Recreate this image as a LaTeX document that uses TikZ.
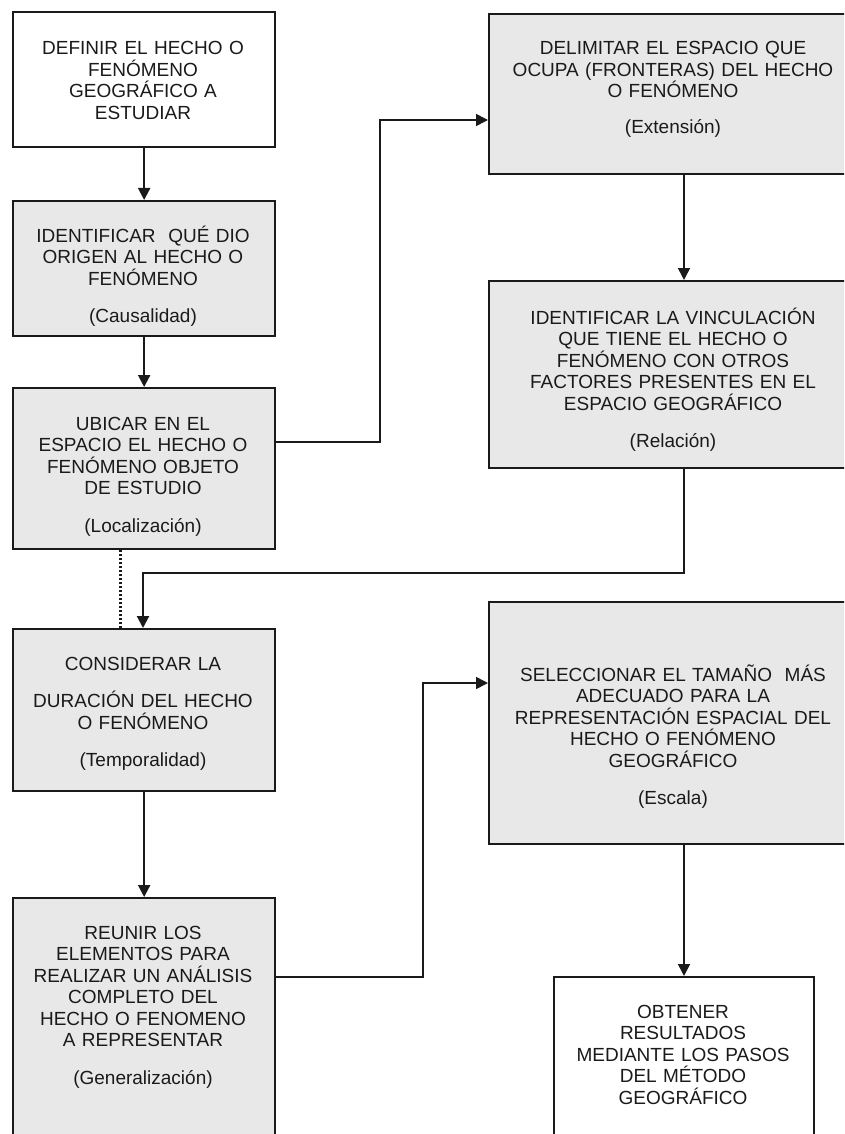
\documentclass[tikz,border=0pt]{standalone}
\usepackage{fontspec}
\setmainfont{Liberation Sans}
\usetikzlibrary{arrows.meta}
\definecolor{boxgray}{HTML}{E8E8E8}
\definecolor{ink}{HTML}{1A1A1A}
\begin{document}
\begin{tikzpicture}[x=1pt,y=-1pt,
  box/.style={draw=ink, line width=2.3pt, rectangle, inner sep=0pt, anchor=north west},
  gbox/.style={box, fill=boxgray},
  wbox/.style={box, fill=white},
  txt/.style={anchor=base, text width=380pt, align=center, inner sep=0pt,
    font=\fontsize{19}{21.5}\selectfont, text=ink},
  arr/.style={draw=ink, line width=2.1pt, -{Triangle[length=12pt,width=12pt]}},
  arrthin/.style={draw=ink, line width=1.6pt, -{Triangle[length=12pt,width=12pt]}},
  dotline/.style={draw=ink, line width=3pt, dash pattern=on 2pt off 2pt}
]
\useasboundingbox (0,0) rectangle (844,1134);
\clip (0,0) rectangle (844,1134);
\fill[white] (0,0) rectangle (844,1134);

% boxes
\node[wbox, minimum width=262pt, minimum height=135pt] (b1) at (12,11) {};
\node[gbox, minimum width=262pt, minimum height=135pt] (b2) at (12,200) {};
\node[gbox, minimum width=262pt, minimum height=161pt] (b3) at (12,387) {};
\node[gbox, minimum width=262pt, minimum height=162pt] (b4) at (12,628) {};
\node[gbox, minimum width=262pt, minimum height=270pt] (b5) at (12,897) {};
\node[gbox, minimum width=370pt, minimum height=160pt] (b6) at (488,13) {};
\node[gbox, minimum width=370pt, minimum height=187pt] (b7) at (488,280) {};
\node[gbox, minimum width=370pt, minimum height=242pt] (b8) at (488,601) {};
\node[wbox, minimum width=260pt, minimum height=200pt] (b9) at (553,976) {};

% texts
\node[txt] (t1) at (143,55) {DEFINIR EL HECHO O\\FENÓMENO\\GEOGRÁFICO A\\ESTUDIAR};
\node[txt] (t2) at (143,242) {IDENTIFICAR\ \ QUÉ DIO\\ORIGEN AL HECHO O\\FENÓMENO\\[16pt](Causalidad)};
\node[txt] (t3) at (143,430) {UBICAR EN EL\\ESPACIO EL HECHO O\\FENÓMENO OBJETO\\DE ESTUDIO\\[16pt](Localización)};
\node[txt] (t4) at (143,670) {CONSIDERAR LA\\[16pt]DURACIÓN DEL HECHO\\O FENÓMENO\\[16pt](Temporalidad)};
\node[txt] (t5) at (143,939) {REUNIR LOS\\ELEMENTOS PARA\\REALIZAR UN ANÁLISIS\\COMPLETO DEL\\HECHO O FENOMENO\\A REPRESENTAR\\[16pt](Generalización)};
\node[txt] (t6) at (673,55) {DELIMITAR EL ESPACIO QUE\\OCUPA (FRONTERAS) DEL HECHO\\O FENÓMENO\\[14pt](Extensión)};
\node[txt] (t7) at (673,324) {IDENTIFICAR LA VINCULACIÓN\\QUE TIENE EL HECHO O\\FENÓMENO CON OTROS\\FACTORES PRESENTES EN EL\\ESPACIO GEOGRÁFICO\\[16pt](Relación)};
\node[txt] (t8) at (673,681) {SELECCIONAR EL TAMAÑO\ \ MÁS\\ADECUADO PARA LA\\REPRESENTACIÓN ESPACIAL DEL\\HECHO O FENÓMENO\\GEOGRÁFICO\\[16pt](Escala)};
\node[txt] (t9) at (683,1018) {OBTENER\\RESULTADOS\\MEDIANTE LOS PASOS\\DEL MÉTODO\\GEOGRÁFICO};

% helper coordinates
\coordinate (c1) at (380,442);
\coordinate (c2) at (380,120);
\coordinate (c3) at (684,0);
\coordinate (c4) at (684,573);
\coordinate (c5) at (143,573);
\coordinate (c6) at (120,0);
\coordinate (c7) at (423,977);
\coordinate (c8) at (423,683);

% connectors
\draw[arr] (b1.south) -- (b2.north);
\draw[arr] (b2.south) -- (b3.north);
\draw[arr] (b4.south) -- (b5.north);
\draw[arrthin] (c1 -| b3.east) -- (c1) -- (c2) -- (c2 -| b6.west);
\draw[arrthin] (c3 |- b6.south) -- (c3 |- b7.north);
\draw[arr] (c4 |- b7.south) -- (c4) -- (c5) -- (c5 |- b4.north);
\draw[dotline] (c6 |- b3.south) -- (c6 |- b4.north);
\draw[arrthin] (c7 -| b5.east) -- (c7) -- (c8) -- (c8 -| b8.west);
\draw[arrthin] (c3 |- b8.south) -- (c3 |- b9.north);
\end{tikzpicture}
\end{document}
